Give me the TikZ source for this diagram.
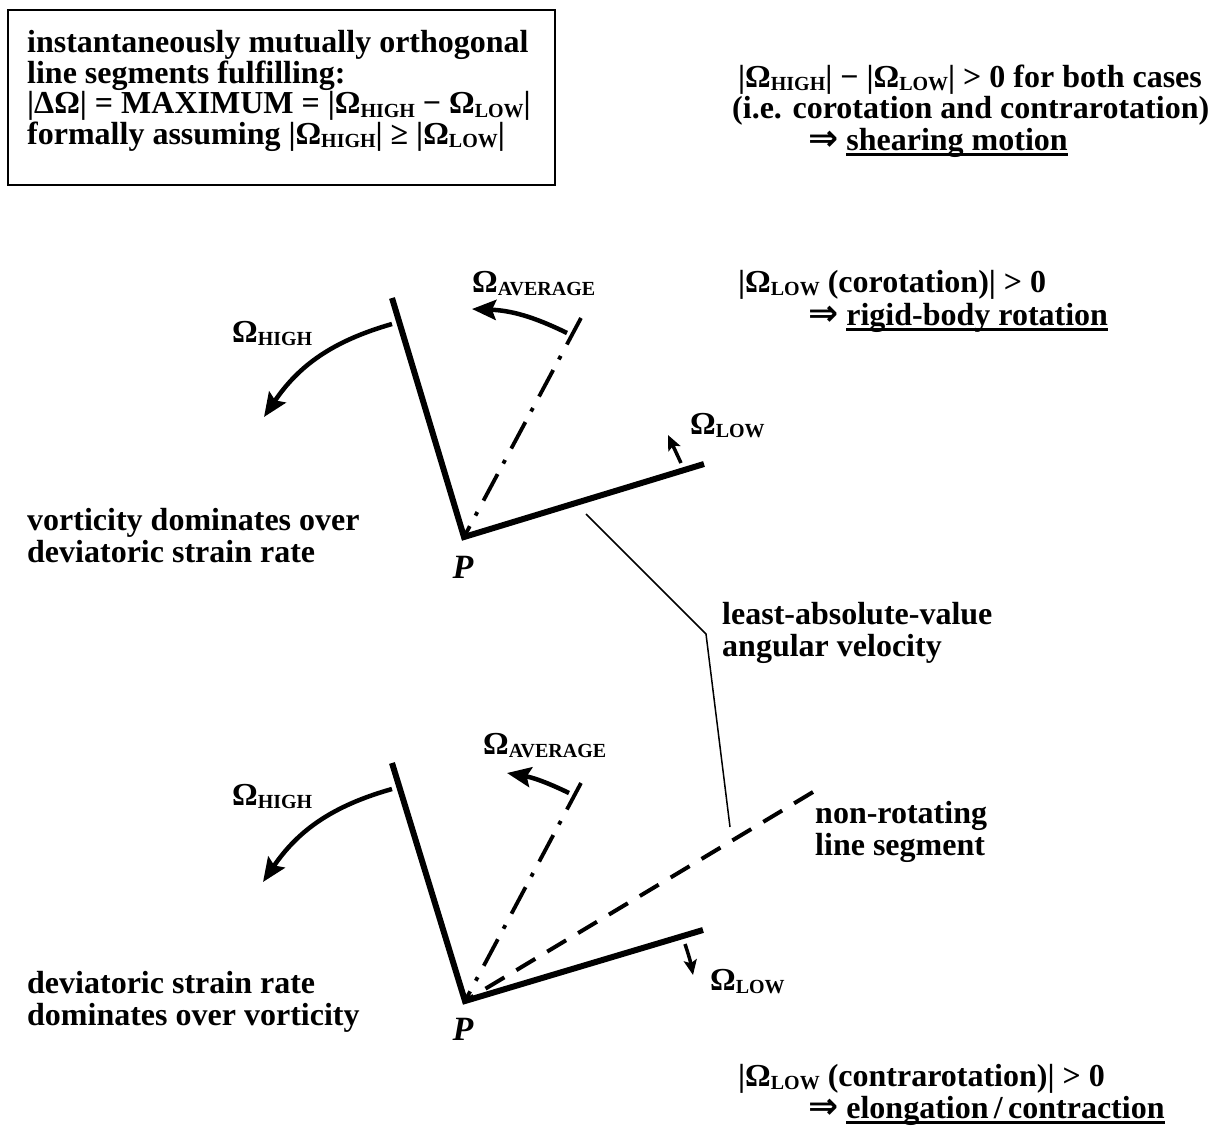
\documentclass[tikz,border=0pt]{standalone}
\usepackage{fontspec}
\setmainfont{Liberation Serif}
\newfontfamily\arrowfont{DejaVu Sans}
\usetikzlibrary{arrows.meta}
\newcommand\sbs[1]{\raisebox{-3pt}{\fontsize{20}{20}\selectfont #1}}
\newcommand\myul[1]{\setbox0\hbox{#1}\rlap{\rule[-6pt]{\wd0}{2.8pt}}\box0}
\newcommand\impl{{\arrowfont\fontsize{36}{36}\selectfont ⇒}}
\tikzset{
  lbl/.style={inner sep=0pt, font=\bfseries\fontsize{32}{32}\selectfont, anchor=base west},
  plbl/.style={inner sep=0pt, font=\bfseries\itshape\fontsize{34}{34}\selectfont, anchor=base},
  seg/.style={line width=6pt},
  rotarrow/.style={line width=4.5pt, -{Stealth[length=24pt,width=20pt,inset=4pt]}},
  smallarrow/.style={line width=3.5pt, -{Stealth[length=15pt,width=13pt,inset=3pt]}},
  avgline/.style={line width=3.8pt, dash pattern=on 30pt off 13pt on 4pt off 12pt},
  nonrot/.style={line width=4pt, dash pattern=on 22pt off 14pt},
  thin/.style={line width=1.5pt},
}
\begin{document}
\begin{tikzpicture}[x=1pt,y=-1pt]
\useasboundingbox (0,0) rectangle (1226,1129);
% top box
\node[draw, line width=2pt, anchor=north west, minimum width=547pt, minimum height=175pt, inner sep=0pt] (box) at (7,9) {};
\node[lbl] (b1) at (27,53) {instantaneously mutually orthogonal};
\node[lbl] (b2) at (27,83.5) {line segments fulfilling:};
\node[lbl] (b3) at (27,114) {|ΔΩ| = MAXIMUM = |Ω\sbs{HIGH} − Ω\sbs{LOW}|};
\node[lbl] (b4) at (27,145) {formally assuming |Ω\sbs{HIGH}| ≥ |Ω\sbs{LOW}|};
% top right
\node[lbl] (t1) at (738,88) {|Ω\sbs{HIGH}| − |Ω\sbs{LOW}| > 0 for both cases};
\node[lbl] (t2) at (732,119) {(i.e. corotation and contrarotation)};
\node[lbl] (t3) at (808,150) {\impl\ \myul{shearing motion}};
% upper diagram
\coordinate (P1) at (464,537);
\coordinate (H1) at (392,298);
\coordinate (L1) at (704,464);
\coordinate (A1) at (581,318);
\draw[seg] (H1) -- (P1) -- (L1);
\draw[avgline] (A1) -- (P1);
\coordinate (avg1s) at (567,333);
\coordinate (avg1e) at (472,309);
\draw[rotarrow] (avg1s) to[bend right=12] (avg1e);
\coordinate (hi1s) at (392,324);
\coordinate (hi1e) at (264,417);
\draw[rotarrow] (hi1s) to[bend right=20] (hi1e);
\coordinate (lo1s) at (681,463);
\coordinate (lo1e) at (668,435);
\draw[smallarrow] (lo1s) -- (lo1e);
\node[lbl] (avg1) at (472,292) {Ω\sbs{AVERAGE}};
\node[lbl] (hi1) at (232,342) {Ω\sbs{HIGH}};
\node[lbl] (lo1) at (690,434) {Ω\sbs{LOW}};
\node[plbl] (p1) at (463,578) {P};
\node[lbl] (r1) at (738,292) {|Ω\sbs{LOW} (corotation)| > 0};
\node[lbl] (r2) at (808,325) {\impl\ \myul{rigid-body rotation}};
\node[lbl] (v1) at (27,530) {vorticity dominates over};
\node[lbl] (v2) at (27,562) {deviatoric strain rate};
% connector
\coordinate (c1) at (586,514);
\coordinate (c2) at (706,634);
\coordinate (c3) at (730,827);
\draw[thin] (c1) -- (c2) -- (c3);
\node[lbl] (la1) at (722,624) {least-absolute-value};
\node[lbl] (la2) at (722,656) {angular velocity};
% lower diagram
\coordinate (P2) at (465,1001);
\coordinate (H2) at (392,763);
\coordinate (L2) at (703,930);
\coordinate (A2) at (581,783);
\coordinate (D2) at (813,792);
\draw[seg] (H2) -- (P2) -- (L2);
\draw[avgline] (A2) -- (P2);
\draw[nonrot] (D2) -- (P2);
\coordinate (avg2s) at (569,793);
\coordinate (avg2e) at (507,773);
\draw[rotarrow] (avg2s) to[bend right=8] (avg2e);
\coordinate (hi2s) at (392,789);
\coordinate (hi2e) at (263,882);
\draw[rotarrow] (hi2s) to[bend right=20] (hi2e);
\coordinate (lo2s) at (685,944);
\coordinate (lo2e) at (693,975);
\draw[smallarrow] (lo2s) to[bend left=4] (lo2e);
\node[lbl] (avg2) at (483,754) {Ω\sbs{AVERAGE}};
\node[lbl] (hi2) at (232,805) {Ω\sbs{HIGH}};
\node[lbl] (lo2) at (710,990) {Ω\sbs{LOW}};
\node[plbl] (p2) at (463,1040) {P};
\node[lbl] (n1) at (815,823) {non-rotating};
\node[lbl] (n2) at (815,855) {line segment};
\node[lbl] (d1) at (27,993) {deviatoric strain rate};
\node[lbl] (d2) at (27,1025) {dominates over vorticity};
\node[lbl] (e1) at (738,1086) {|Ω\sbs{LOW} (contrarotation)| > 0};
\node[lbl] (e2) at (808,1118) {\impl\ \myul{elongation\,/\,contraction}};
\end{tikzpicture}
\end{document}
